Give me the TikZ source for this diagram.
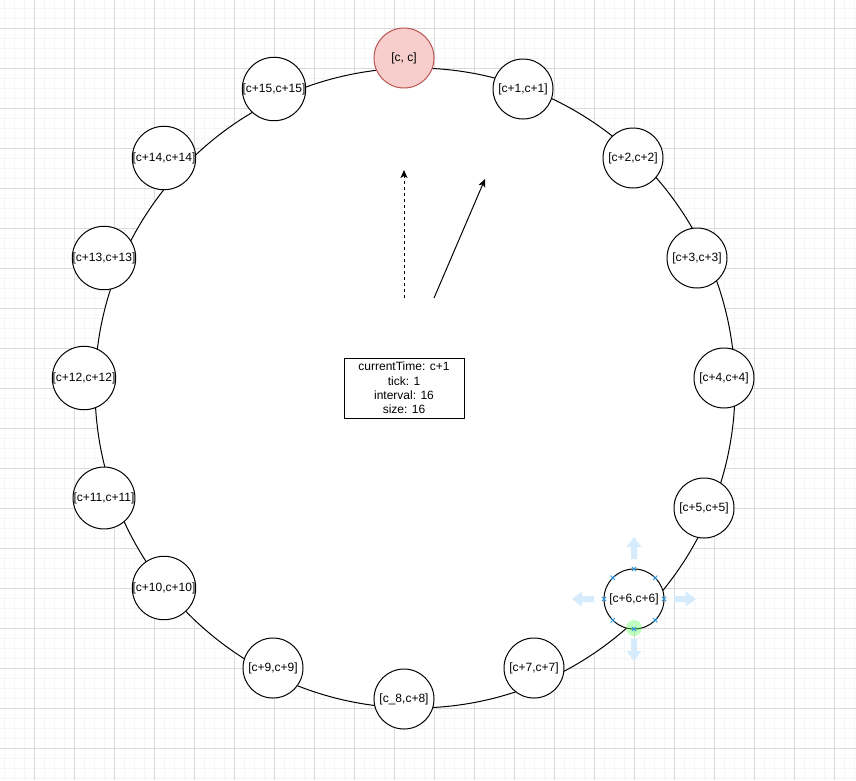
\documentclass[tikz,border=0pt]{standalone}
\usepackage{fontspec}
\setmainfont{Liberation Sans}
\usetikzlibrary{arrows.meta,positioning,calc}
\definecolor{gridminor}{RGB}{245,245,245}
\definecolor{gridmajor}{RGB}{218,218,218}
\definecolor{headfill}{RGB}{248,206,204}
\definecolor{headline}{RGB}{184,84,80}
\definecolor{handleblue}{RGB}{214,236,252}
\definecolor{markblue}{RGB}{41,150,230}
\tikzset{
  slot/.style={draw,circle,fill=white,line width=1pt,minimum size=60pt,inner sep=0pt,
    font=\fontsize{12}{14}\selectfont},
  hand/.style={line width=1pt,-{Stealth[length=8pt,width=7pt,inset=2pt]}},
}
\begin{document}
\begin{tikzpicture}[x=1pt,y=-1pt]
  \useasboundingbox (0,0) rectangle (856,780);
  % background grid
  \foreach \g in {4,14,...,854} {
    \draw[gridminor,line width=1pt] (\g,0) -- (\g,780);
  }
  \foreach \g in {8,18,...,778} {
    \draw[gridminor,line width=1pt] (0,\g) -- (856,\g);
  }
  \foreach \g in {34,74,...,854} {
    \draw[gridmajor,line width=1pt] (\g,0) -- (\g,780);
  }
  \foreach \g in {28,68,...,778} {
    \draw[gridmajor,line width=1pt] (0,\g) -- (856,\g);
  }
  % the ring
  \node[draw,circle,fill=white,line width=1pt,minimum size=640pt,inner sep=0pt] (ring) at (415,388) {};
  % slots
  \foreach \nm/\px/\py/\lab in {
      s1/523/89/{[c+1,c+1]}, s2/633/158/{[c+2,c+2]}, s3/697/258/{[c+3,c+3]},
      s4/724/378/{[c+4,c+4]}, s5/704/508/{[c+5,c+5]}, s6/634/599/{[c+6,c+6]},
      s7/534/668/{[c+7,c+7]}, s8/404/699/{[c\_8,c+8]}, s9/273/668/{[c+9,c+9]},
      s10/164/588/{[c+10,c+10]}, s11/104/498/{[c+11,c+11]}, s12/84/378/{[c+12,c+12]},
      s13/104/258/{[c+13,c+13]}, s14/164/158/{[c+14,c+14]}, s15/274/89/{[c+15,c+15]}} {
    \node[slot] (\nm) at (\px,\py) {\lab};
  }
  \node[slot,fill=headfill,draw=headline] (s0) at (404,58) {[c, c]};
  % state box
  \node[draw,line width=1pt,minimum width=120pt,minimum height=60pt,inner sep=0pt,align=center,
    font=\fontsize{12}{14.3}\selectfont] (state) at (404,388)
    {currentTime: c+1\\tick: 1\\interval: 16\\size: 16};
  % hands
  \coordinate (h0) at (404,298);
  \coordinate (t0) at (404,170);
  \coordinate (h1) at (434,298);
  \coordinate (t1) at (485,179);
  \draw[hand,dashed] (h0) -- (t0);
  \draw[hand] (h1) -- (t1);
  % selection handles on s6
  \foreach \a in {0,90,180,270} {
    \fill[handleblue,rotate around={\a:(s6.center)}]
      ($(s6.center)+(-3,-40)$) -- ++(0,-12) -- ++(-4.5,0) -- ++(7.5,-10) -- ++(7.5,10)
      -- ++(-4.5,0) -- ++(0,12) -- cycle;
  }
  \fill[green!70,opacity=0.35] (634,628) circle (8);
  \foreach \a in {0,45,...,315} {
    \draw[markblue,line width=0.8pt] ($(s6.center)+(\a:30)+(-2.2,-2.2)$) -- ++(4.4,4.4)
      ($(s6.center)+(\a:30)+(-2.2,2.2)$) -- ++(4.4,-4.4);
  }
\end{tikzpicture}
\end{document}
